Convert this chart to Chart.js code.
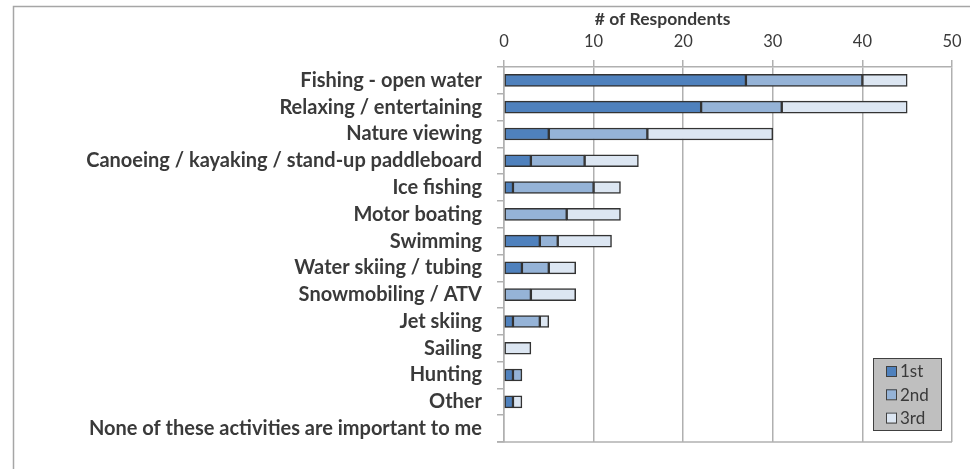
<!DOCTYPE html>
<html>
<head>
<meta charset="utf-8">
<script src="https://cdn.jsdelivr.net/npm/chart.js@4"></script>
<style>
html,body{margin:0;padding:0;background:#fff;}
canvas{display:block;}
</style>
</head>
<body>
<canvas id="c" width="970" height="469"></canvas>
<script>
const categories = [
  "Fishing - open water",
  "Relaxing / entertaining",
  "Nature viewing",
  "Canoeing / kayaking / stand-up paddleboard",
  "Ice fishing",
  "Motor boating",
  "Swimming",
  "Water skiing / tubing",
  "Snowmobiling / ATV",
  "Jet skiing",
  "Sailing",
  "Hunting",
  "Other",
  "None of these activities are important to me"
];
const first  = [27, 22, 5, 3, 1, 0, 4, 2, 0, 1, 0, 1, 1, 0];
const second = [13, 9, 11, 6, 9, 7, 2, 3, 3, 3, 0, 1, 0, 0];
const third  = [5, 14, 14, 6, 3, 6, 6, 3, 5, 1, 3, 0, 1, 0];
const seriesLabels = ["1st", "2nd", "3rd"];
const xTicks = [0, 10, 20, 30, 40, 50];
const axisTitle = "# of Respondents";

const colors = ["#4F81BD", "#95B3D7", "#DCE6F2"];
const FONT = "Lato, 'Open Sans', sans-serif";
const TXT = "#3a3a3a";
const GRID = "#b0b0b0";

const decor = {
  id: 'decor',
  beforeDraw(chart) {
    const ctx = chart.ctx;
    ctx.save();
    ctx.strokeStyle = "#a6a6a6";
    ctx.lineWidth = 1.5;
    ctx.beginPath();
    ctx.moveTo(13.5, 469);
    ctx.lineTo(13.5, 6.5);
    ctx.lineTo(970, 6.5);
    ctx.stroke();
    ctx.restore();
  },
  afterDraw(chart) {
    const ctx = chart.ctx;
    const xs = chart.scales.x;
    const area = chart.chartArea;
    ctx.save();
    // bottom plot border
    ctx.strokeStyle = GRID;
    ctx.lineWidth = 1.5;
    ctx.beginPath();
    ctx.moveTo(area.left - 7, area.bottom);
    ctx.lineTo(area.right, area.bottom);
    ctx.stroke();
    // axis title
    ctx.fillStyle = TXT;
    ctx.font = "bold 17.5px " + FONT;
    ctx.textAlign = "center";
    ctx.textBaseline = "middle";
    ctx.fillText(axisTitle, xs.getPixelForValue(17.7), 19);
    // legend
    const lx = area.right - 79, ly = area.bottom - 84, lw = 68, lh = 72;
    ctx.fillStyle = "#BFBFBF";
    ctx.fillRect(lx, ly, lw, lh);
    ctx.strokeStyle = "#404040";
    ctx.lineWidth = 1;
    ctx.strokeRect(lx + 0.5, ly + 0.5, lw, lh);
    ctx.font = "17px " + FONT;
    ctx.textAlign = "left";
    chart.data.datasets.forEach((ds, i) => {
      const cy = ly + 13 + i * 23.3;
      ctx.fillStyle = ds.backgroundColor;
      ctx.fillRect(lx + 13, cy - 5, 10, 10);
      ctx.strokeStyle = "#404040";
      ctx.strokeRect(lx + 13.5, cy - 4.5, 10, 10);
      ctx.fillStyle = TXT;
      ctx.fillText(ds.label, lx + 27, cy + 1);
    });
    ctx.restore();
  }
};

new Chart(document.getElementById('c'), {
  type: 'bar',
  data: {
    labels: categories,
    datasets: [first, second, third].map((d, i) => ({
      label: seriesLabels[i],
      data: d,
      backgroundColor: colors[i],
      borderColor: "#333333",
      borderWidth: 1.5,
      borderSkipped: false,
      barThickness: 12
    }))
  },
  options: {
    indexAxis: 'y',
    responsive: false,
    devicePixelRatio: 1,
    animation: false,
    layout: { padding: { top: 0, right: 18, bottom: 7, left: 0 } },
    plugins: { legend: { display: false }, tooltip: { enabled: false } },
    scales: {
      x: {
        position: 'top',
        stacked: true,
        min: 0,
        max: 50,
        afterBuildTicks(scale) { scale.ticks = xTicks.map(v => ({ value: v })); },
        afterFit(scale) { scale.height = 67; },
        ticks: { color: TXT, font: { family: FONT, size: 16.5 }, padding: 8 },
        grid: { color: GRID, lineWidth: 1.5, tickLength: 7 },
        border: { color: GRID, width: 1.5 }
      },
      y: {
        stacked: true,
        afterFit(scale) { scale.width = 504; },
        ticks: { color: TXT, font: { family: FONT, size: 20, weight: 'bold' }, padding: 15, autoSkip: false },
        grid: { drawOnChartArea: false, color: GRID, lineWidth: 1.5, tickLength: 7, offset: true },
        border: { color: GRID, width: 1.5 }
      }
    }
  },
  plugins: [decor]
});
</script>
</body>
</html>
